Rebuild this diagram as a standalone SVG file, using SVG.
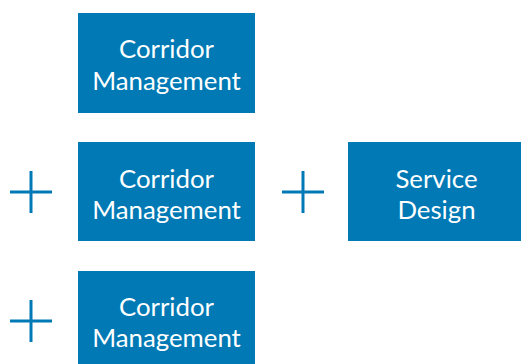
<svg xmlns="http://www.w3.org/2000/svg" width="521" height="364" viewBox="0 0 521 364">
<style>
.box{fill:#0079B5}
.t{fill:#fff;font-family:Lato,"Open Sans",sans-serif;font-size:25.8px;text-anchor:middle}
.plus{stroke:#0079B5;stroke-width:3;fill:none}
</style>
<rect width="521" height="364" fill="#fff"/>
<g id="n1"><rect class="box" x="78" y="13" width="177" height="100"/><text class="t" x="166.5" y="58">Corridor</text><text class="t" x="166.5" y="90">Management</text></g>
<g id="n2"><rect class="box" x="78" y="142" width="177" height="99"/><text class="t" x="166.5" y="188">Corridor</text><text class="t" x="166.5" y="219">Management</text></g>
<g id="n3"><rect class="box" x="348" y="142" width="177" height="99"/><text class="t" x="436.5" y="188">Service</text><text class="t" x="436.5" y="219">Design</text></g>
<g id="n4"><rect class="box" x="78" y="271" width="177" height="99"/><text class="t" x="166.5" y="316">Corridor</text><text class="t" x="166.5" y="347">Management</text></g>
<g id="connectors">
<path class="plus" d="M10 192H52M31 171V213"/>
<path class="plus" d="M282 192H324M303 171V213"/>
<path class="plus" d="M10 321H52M31 300V342"/>
</g>
</svg>
